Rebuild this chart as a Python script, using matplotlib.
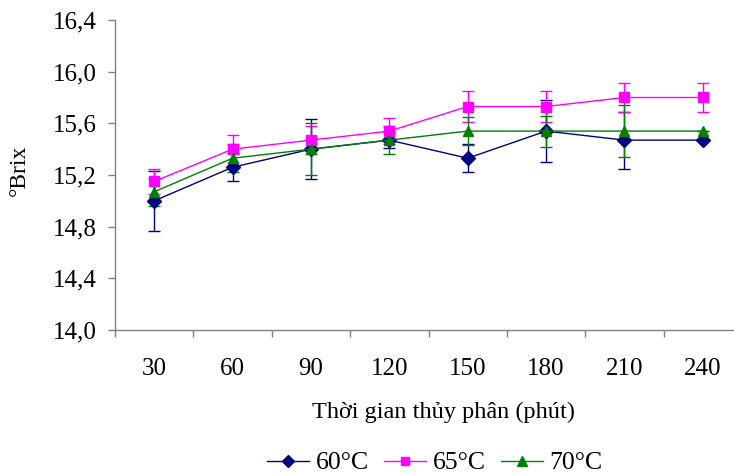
import matplotlib
matplotlib.use("Agg")
import matplotlib.pyplot as plt
from matplotlib.lines import Line2D

times = ["30", "60", "90", "120", "150", "180", "210", "240"]
s60 = [15.00, 15.26, 15.40, 15.47, 15.33, 15.54, 15.47, 15.47]
e60 = [0.23, 0.11, 0.23, 0.06, 0.11, 0.24, 0.22, 0.0]
s65 = [15.15, 15.40, 15.47, 15.54, 15.73, 15.73, 15.80, 15.80]
e65 = [0.10, 0.11, 0.11, 0.10, 0.12, 0.12, 0.11, 0.11]
s70 = [15.07, 15.33, 15.40, 15.47, 15.54, 15.54, 15.54, 15.54]
e70 = [0.11, 0.11, 0.20, 0.11, 0.11, 0.12, 0.20, 0.0]
labels = ["60°C", "65°C", "70°C"]
yticks = [14.0, 14.4, 14.8, 15.2, 15.6, 16.0, 16.4]

plt.rcParams['font.family'] = ['Liberation Serif', 'DejaVu Serif']
fig = plt.figure(figsize=(7.34, 4.75), dpi=100)
ax = fig.add_axes([115/734, 145/475, 627/734, 310/475])

x = list(range(len(times)))
styles = [("#000080", "D", 7), ("#FF00FF", "s", 6.5), ("#008000", "^", 7.5)]
for vals, errs, lab, (c, m, ms) in zip([s60, s65, s70], [e60, e65, e70], labels, styles):
    ax.errorbar(x, vals, yerr=errs, color=c, marker=m, markersize=ms, lw=1,
                elinewidth=1, capsize=4, capthick=1, label=lab, clip_on=False)

ax.set_xlim(-0.5, len(times) - 0.5)
ax.set_ylim(14.0, 16.4)
ax.set_yticks(yticks)
ax.set_yticklabels([f"{v:.1f}".replace(".", ",") for v in yticks], fontsize=18)
ax.set_xticks(x)
ax.set_xticklabels(times, fontsize=18)
ax.set_xticks([i - 0.5 for i in range(len(times) + 1)], minor=True)
ax.tick_params(axis='x', which='major', length=0, pad=20)
ax.tick_params(axis='x', which='minor', length=5, color='#808080', width=1)
ax.tick_params(axis='y', length=5, color='#808080', width=1, pad=8)

for s in ['top', 'right']:
    ax.spines[s].set_visible(False)
for s in ['left', 'bottom']:
    ax.spines[s].set_color('#808080')
    ax.spines[s].set_linewidth(1)

ax.set_ylabel("°Brix", fontsize=17)
ax.yaxis.set_label_coords(-0.136, 0.516)
fig.text(311.7/734, 1 - 418.3/475, "Thời gian thủy phân (phút)", fontsize=17.5,
         ha='left', va='baseline')

handles = [Line2D([0], [0], color=c, marker=m, markersize=ms * 0.9, lw=1)
           for (c, m, ms) in styles]
fig.legend(handles, labels, loc='center', bbox_to_anchor=(435/734, 1 - 463/475),
           ncol=3, frameon=False, fontsize=18.5, handlelength=1.63,
           columnspacing=0.58, handletextpad=0.27, borderpad=0.2)

fig.savefig("out.png", dpi=100)
